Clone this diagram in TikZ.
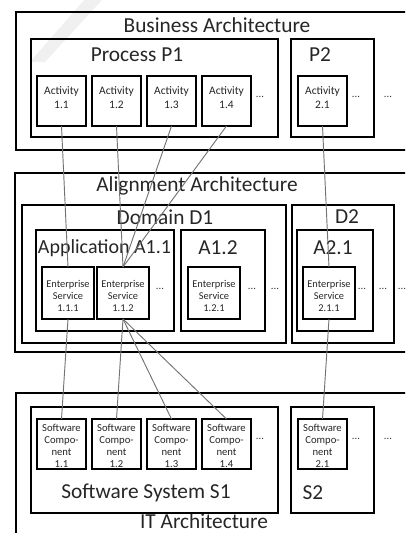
\documentclass[tikz,border=0pt]{standalone}
\usepackage{fontspec}
\setmainfont{Carlito}
\usetikzlibrary{fit}
\begin{document}
\begin{tikzpicture}[x=0.75pt,y=-0.75pt,
  bigbox/.style={draw=black,line width=1.7pt,inner sep=0pt,outer sep=0pt},
  leafbox/.style={draw=black,line width=2.1pt,inner sep=0pt,outer sep=0pt},
  title/.style={font=\fontsize{16}{19}\selectfont,text=black!85,inner sep=0pt},
  small/.style={font=\fontsize{8.6}{11}\selectfont,align=center,text=black!85,inner sep=0pt},
  tiny/.style={font=\fontsize{7.8}{9}\selectfont,align=center,text=black!85,inner sep=0pt},
  dots/.style={font=\fontsize{8}{9}\selectfont,text=black!80,inner sep=0pt},
  link/.style={draw=black!55,line width=0.7pt}]
\useasboundingbox (0,0) rectangle (405,533);
\clip (0,0) rectangle (405,533);
% watermark stroke
\fill[black!6] (84,0) -- (102,0) -- (45,62) -- (30,62) -- cycle;
% ---------- Business Architecture ----------
\node[bigbox,fit={(16,12)(420,150)}] (ba) {};
\node[title] (baT) at (217,25) {Business Architecture};
\node[bigbox,fit={(31,39)(278,137)}] (p1) {};
\node[title] (p1T) at (137,55) {Process P1};
\node[bigbox,fit={(291,39)(374,137)}] (p2) {};
\node[title] (p2T) at (320,55) {P2};
\node[leafbox,fit={(37,76)(86,126)}] (a11) {};
\node[leafbox,fit={(92,76)(141,126)}] (a12) {};
\node[leafbox,fit={(147,76)(196,126)}] (a13) {};
\node[leafbox,fit={(202,76)(251,126)}] (a14) {};
\node[leafbox,fit={(298,76)(347,126)}] (a21) {};
\node[small] (a11T) at (61.5,97.5) {Activity\\1.1};
\node[small] (a12T) at (116.5,97.5) {Activity\\1.2};
\node[small] (a13T) at (171.5,97.5) {Activity\\1.3};
\node[small] (a14T) at (226.5,97.5) {Activity\\1.4};
\node[small] (a21T) at (322.5,97.5) {Activity\\2.1};
\node[dots] (d1) at (260,97) {...};
\node[dots] (d2) at (356,97) {...};
\node[dots] (d3) at (388,97) {...};
% ---------- Alignment Architecture ----------
\node[bigbox,fit={(15,173)(420,352)}] (al) {};
\node[title] (alT) at (197,186) {Alignment Architecture};
\node[bigbox,fit={(22,205)(286,343)}] (dd1) {};
\node[title] (dd1T) at (165,217) {Domain D1};
\node[bigbox,fit={(292,205)(394,343)}] (dd2) {};
\node[title] (dd2T) at (347,217) {D2};
\node[bigbox,fit={(36,230)(174,331)}] (ap11) {};
\node[title,font=\fontsize{15}{18}\selectfont] (ap11T) at (104.5,248) {Application A1.1};
\node[bigbox,fit={(181,230)(265,331)}] (ap12) {};
\node[title] (ap12T) at (218,248) {A1.2};
\node[bigbox,fit={(297,230)(373,331)}] (ap21) {};
\node[title] (ap21T) at (333,248) {A2.1};
\node[leafbox,fit={(42,267)(94,319)}] (es111) {};
\node[leafbox,fit={(97,267)(149,319)}] (es112) {};
\node[leafbox,fit={(188,267)(240,319)}] (es121) {};
\node[leafbox,fit={(303,267)(355,319)}] (es211) {};
\node[tiny] (es111T) at (68,296) {Enterprise\\Service\\1.1.1};
\node[tiny] (es112T) at (123,296) {Enterprise\\Service\\1.1.2};
\node[tiny] (es121T) at (214,296) {Enterprise\\Service\\1.2.1};
\node[tiny] (es211T) at (329,296) {Enterprise\\Service\\2.1.1};
\node[dots] (e1) at (160,289) {...};
\node[dots] (e2) at (252,289) {...};
\node[dots] (e3) at (275,289) {...};
\node[dots] (e4) at (362,289) {...};
\node[dots] (e5) at (383,289) {...};
\node[dots] (e6) at (402,289) {...};
% ---------- IT Architecture ----------
\node[bigbox,fit={(16,393)(420,545)}] (it) {};
\node[title] (itT) at (204,521) {IT Architecture};
\node[bigbox,fit={(31,407)(278,513)}] (s1) {};
\node[title] (s1T) at (146,493) {Software System S1};
\node[bigbox,fit={(291,407)(374,513)}] (s2) {};
\node[title] (s2T) at (313,493) {S2};
\node[leafbox,fit={(37,419)(86,469)}] (c11) {};
\node[leafbox,fit={(92,419)(141,469)}] (c12) {};
\node[leafbox,fit={(147,419)(196,469)}] (c13) {};
\node[leafbox,fit={(202,419)(251,469)}] (c14) {};
\node[leafbox,fit={(298,419)(347,469)}] (c21) {};
\node[tiny,font=\fontsize{8}{8.9}\selectfont] (c11T) at (61.5,446) {Software\\Compo-\\nent\\1.1};
\node[tiny,font=\fontsize{8}{8.9}\selectfont] (c12T) at (116.5,446) {Software\\Compo-\\nent\\1.2};
\node[tiny,font=\fontsize{8}{8.9}\selectfont] (c13T) at (171.5,446) {Software\\Compo-\\nent\\1.3};
\node[tiny,font=\fontsize{8}{8.9}\selectfont] (c14T) at (226.5,446) {Software\\Compo-\\nent\\1.4};
\node[tiny,font=\fontsize{8}{8.9}\selectfont] (c21T) at (322.5,446) {Software\\Compo-\\nent\\2.1};
\node[dots] (f1) at (260,439) {...};
\node[dots] (f2) at (356,439) {...};
\node[dots] (f3) at (388,439) {...};
% ---------- connectors ----------
\draw[link] (a11.south) -- (es111.north);
\draw[link] (a12.south) -- (es112.north);
\draw[link] (a13.south) -- (es112.north);
\draw[link] (a14.south) -- (es112.north);
\draw[link] (a21.south) -- (es211.north);
\draw[link] (es111.south) -- (c11.north);
\draw[link] (es112.south) -- (c12.north);
\draw[link] (es112.south) -- (c13.north);
\draw[link] (es112.south) -- (c14.north);
\draw[link] (es211.south) -- (c21.north);
\end{tikzpicture}
\end{document}
